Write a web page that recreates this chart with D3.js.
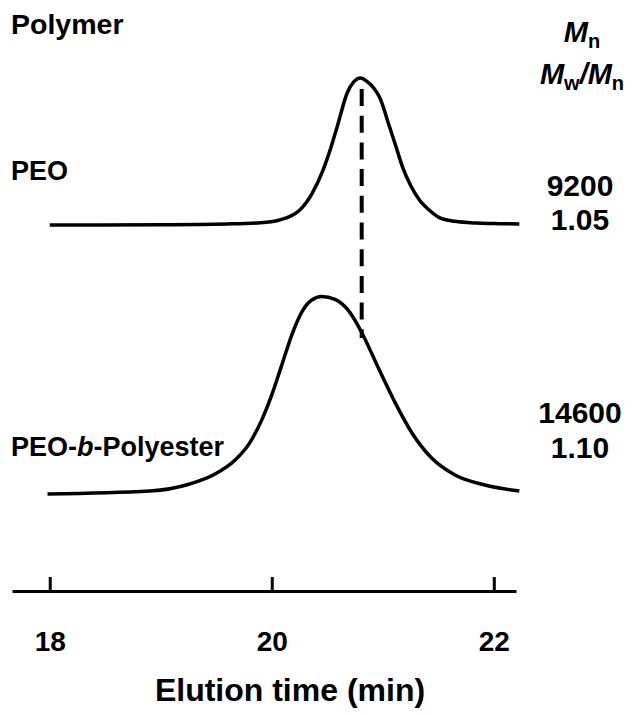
<!DOCTYPE html>
<html><head><meta charset="utf-8">
<script src="https://cdn.jsdelivr.net/npm/d3@7/dist/d3.min.js"></script>
<style>body{margin:0;background:#fff}svg{display:block}text{font-family:"Liberation Sans",Arial,sans-serif;font-weight:bold;fill:#000}</style>
</head><body>
<script>
// ---- data ----
const tickValues = [18, 20, 22];
const axisTitle = "Elution time (min)";
// PEO trace: elution time (min) vs normalized detector response
const peoTime = [18.0, 19.0, 19.6, 19.9, 20.07, 20.17, 20.25, 20.36, 20.46, 20.53, 20.59, 20.68, 20.74, 20.80, 20.86, 20.92, 20.97, 21.06, 21.12, 21.18, 21.25, 21.33, 21.42, 21.51, 21.65, 21.85, 22.05, 22.23];
const peoResp = [0.0, 0.002, 0.007, 0.015, 0.034, 0.06, 0.10, 0.21, 0.37, 0.52, 0.67, 0.90, 0.975, 1.0, 0.975, 0.93, 0.87, 0.67, 0.53, 0.39, 0.27, 0.17, 0.10, 0.05, 0.025, 0.013, 0.009, 0.007];
// PEO-b-Polyester trace
const blockTime = [17.98, 18.90, 19.26, 19.49, 19.67, 19.80, 19.91, 20.00, 20.09, 20.18, 20.27, 20.36, 20.45, 20.57, 20.69, 20.81, 20.95, 21.11, 21.26, 21.44, 21.65, 21.92, 22.23];
const blockResp = [-0.005, 0.010, 0.046, 0.097, 0.168, 0.254, 0.372, 0.499, 0.651, 0.804, 0.921, 0.982, 1.0, 0.985, 0.929, 0.817, 0.649, 0.461, 0.308, 0.178, 0.092, 0.041, 0.010];
// trace scaling / stacking (signal units)
const traceNames = ["PEO", "PEO-b-Polyester"];
const traceOffset = [1.364, 0];
const traceAmp = [0.748, 1.0];
const Mn = ["9200", "14600"];
const PDI = ["1.05", "1.10"];
// dashed reference line at the PEO peak
const dashTime = 20.81;
const dashRange = [0.789, 2.056];

// ---- drawing ----
const W = 635, H = 715;
const svg = d3.select("body").append("svg").attr("width", W).attr("height", H);
const x = d3.scaleLinear().domain([17.66, 22.2]).range([12, 516]);
const y = d3.scaleLinear().domain([0, 1]).range([493, 296.5]);

const traces = [
  peoTime.map((t, i) => [t, traceOffset[0] + traceAmp[0] * peoResp[i]]),
  blockTime.map((t, i) => [t, traceOffset[1] + traceAmp[1] * blockResp[i]])
];
const line = d3.line().x(d => x(d[0])).y(d => y(d[1])).curve(d3.curveMonotoneX);
svg.selectAll("path.trace").data(traces).join("path")
  .attr("class", "trace").attr("d", line)
  .attr("fill", "none").attr("stroke", "#000").attr("stroke-width", 3.5)
  .attr("stroke-linecap", "butt");

svg.append("line")
  .attr("x1", x(dashTime)).attr("x2", x(dashTime))
  .attr("y1", y(dashRange[1])).attr("y2", y(dashRange[0]))
  .attr("stroke", "#000").attr("stroke-width", 4).attr("stroke-dasharray", "17,9.7");

// x axis
const ax = svg.append("g").attr("transform", "translate(0,591)")
  .call(d3.axisBottom(x).tickValues(tickValues).tickSizeInner(-14).tickSizeOuter(0).tickPadding(40).tickFormat(d3.format("d")));
ax.attr("font-family", null).attr("font-size", null);
ax.select(".domain").attr("stroke-width", 3);
ax.selectAll(".tick line").attr("stroke-width", 3);
ax.selectAll(".tick text").attr("font-size", 28);

svg.append("text").attr("x", 290).attr("y", 701).attr("text-anchor", "middle")
  .attr("font-size", 32).text(axisTitle);

// headers
svg.append("text").attr("x", 11).attr("y", 34).attr("font-size", 28.5).text("Polymer");
const h1 = svg.append("text").attr("x", 582).attr("y", 42).attr("text-anchor", "middle").attr("font-size", 29);
h1.append("tspan").attr("font-style", "italic").text("M");
h1.append("tspan").attr("font-size", 20).attr("dy", 6).text("n");
const h2 = svg.append("text").attr("x", 582).attr("y", 84).attr("text-anchor", "middle").attr("font-size", 29);
h2.append("tspan").attr("font-style", "italic").text("M");
h2.append("tspan").attr("font-size", 20).attr("dy", 6).text("w");
h2.append("tspan").attr("dy", -6).attr("font-style", "italic").text("/M");
h2.append("tspan").attr("font-size", 20).attr("dy", 6).text("n");

// trace labels
const labelY = [180, 456];
svg.append("text").attr("x", 11).attr("y", labelY[0]).attr("font-size", 27).text(traceNames[0]);
const lb = svg.append("text").attr("x", 11).attr("y", labelY[1]).attr("font-size", 27);
lb.append("tspan").text("PEO-");
lb.append("tspan").attr("font-style", "italic").text("b");
lb.append("tspan").text("-Polyester");

const mnY = [196, 423], pdiY = [230, 458];
[0, 1].forEach(i => {
  svg.append("text").attr("x", 580).attr("y", mnY[i]).attr("text-anchor", "middle").attr("font-size", 30).text(Mn[i]);
  svg.append("text").attr("x", 580).attr("y", pdiY[i]).attr("text-anchor", "middle").attr("font-size", 30).text(PDI[i]);
});
</script>
</body></html>
